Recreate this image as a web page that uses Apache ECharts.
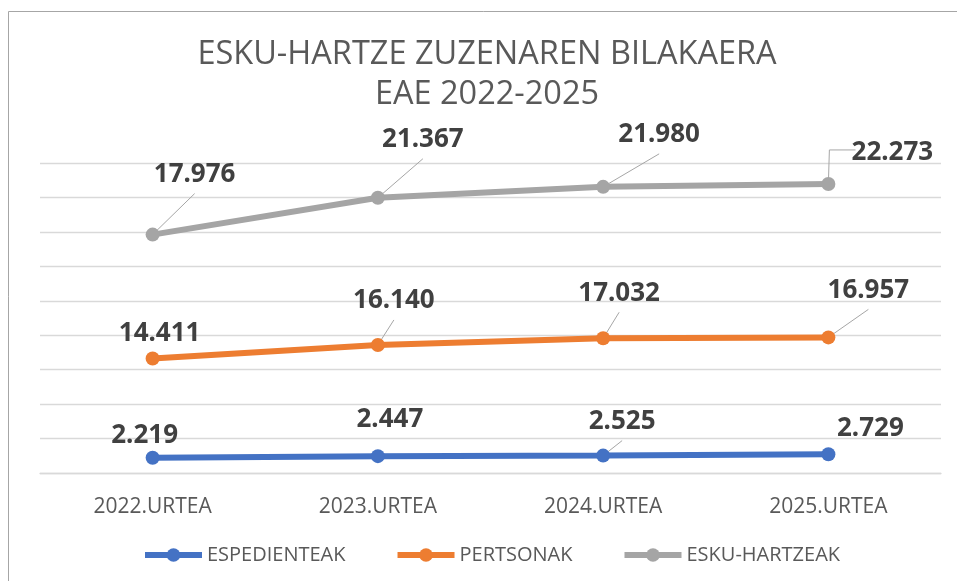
<!DOCTYPE html>
<html>
<head>
<meta charset="utf-8">
<script src="https://cdn.jsdelivr.net/npm/echarts@6/dist/echarts.min.js"></script>
<style>
  html, body { margin: 0; padding: 0; background: #fff; }
  #main { width: 957px; height: 581px; }
</style>
</head>
<body>
<div id="main"></div>
<script>
var categories = ['2022.URTEA', '2023.URTEA', '2024.URTEA', '2025.URTEA'];
var espedienteak = [2219, 2447, 2525, 2729];
var pertsonak = [14411, 16140, 17032, 16957];
var eskuHartzeak = [17976, 21367, 21980, 22273];

// label offsets from the point (text centre), and which labels get a leader line
var offEsp = [[-8, -24], [12, -39], [19, -36], [42, -28]];
var offPer = [[7, -27], [16, -46], [16, -47], [40, -49]];
var offEsk = [[42, -62], [45, -60], [56, -54], [64, -33]];
var lineEsp = [false, true, true, false];
var linePer = [false, true, true, true];
var lineEsk = [true, true, true, 'elbow'];

var font = '"Open Sans", "Noto Sans", sans-serif';
var boldFont = '"Noto Sans", "Liberation Sans", sans-serif';

function fmt(v) {
	return String(v).replace(/\B(?=(\d{3})+(?!\d))/g, '.');
}

// point / label centres collected while the labels are laid out
var anchors = [[], [], []];

function layoutFn(s, offs) {
	return function (params) {
		var o = offs[params.dataIndex];
		var px = params.rect.x + params.rect.width / 2;
		var py = params.rect.y + params.rect.height / 2;
		var lx = px + o[0], ly = py + o[1];
		anchors[s][params.dataIndex] = { px: px, py: py, lx: lx, ly: ly, w: params.labelRect.width };
		return { x: lx, y: ly + 2, align: 'center', verticalAlign: 'middle' };
	};
}

function makeSeries(s, name, values, color, offs) {
	return {
		name: name,
		type: 'line',
		stack: 'total',
		z: 3,
		data: values,
		symbol: 'circle',
		symbolSize: 14,
		lineStyle: { color: color, width: 6 },
		itemStyle: { color: color },
		label: {
			show: true,
			position: 'inside',
			formatter: function (p) { return fmt(p.value); },
			color: '#404040',
			fontFamily: boldFont,
			fontWeight: 'bold',
			fontSize: 26,
			padding: [4, 6, 8, 6]
		},
		labelLayout: layoutFn(s, offs)
	};
}

var myChart = echarts.init(document.getElementById('main'));

var option = {
	animation: false,
	backgroundColor: '#fff',
	graphic: [{
		type: 'rect',
		id: 'frame',
		silent: true,
		z: -10,
		shape: { x: 8.5, y: 11.5, width: 1200, height: 1200 },
		style: { fill: 'none', stroke: '#d9d9d9', lineWidth: 1.5 }
	}],
	title: {
		text: 'ESKU-HARTZE ZUZENAREN BILAKAERA\nEAE 2022-2025',
		left: 487,
		textAlign: 'center',
		top: 35,
		padding: 0,
		textStyle: {
			color: '#595959',
			fontFamily: font,
			fontWeight: 'normal',
			fontSize: 32.5,
			lineHeight: 40
		}
	},
	legend: {
		left: 142,
		top: 545,
		padding: 0,
		itemWidth: 57,
		itemHeight: 17,
		itemGap: 49,
		lineStyle: { width: 6 },
		textStyle: { color: '#595959', fontFamily: font, fontSize: 20 },
		data: ['ESPEDIENTEAK', 'PERTSONAK', 'ESKU-HARTZEAK']
	},
	grid: { left: 40, right: 16, top: 163, bottom: 108, containLabel: false },
	xAxis: {
		type: 'category',
		data: categories,
		boundaryGap: true,
		axisLine: { lineStyle: { color: '#d9d9d9', width: 1.3 } },
		axisTick: { show: false },
		axisLabel: { color: '#595959', fontFamily: font, fontSize: 21, margin: 24 }
	},
	yAxis: {
		type: 'value',
		min: 0,
		max: 45000,
		interval: 5000,
		axisLine: { show: false },
		axisTick: { show: false },
		axisLabel: { show: false },
		splitLine: { lineStyle: { color: '#d9d9d9', width: 1.3 } }
	},
	series: [
		makeSeries(0, 'ESPEDIENTEAK', espedienteak, '#4472c4', offEsp),
		makeSeries(1, 'PERTSONAK', pertsonak, '#ed7d31', offPer),
		makeSeries(2, 'ESKU-HARTZEAK', eskuHartzeak, '#a5a5a5', offEsk)
	]
};

myChart.setOption(option);

// leader lines from each point to its moved label
var guides = [];
[lineEsp, linePer, lineEsk].forEach(function (flags, s) {
	flags.forEach(function (f, i) {
		var a = anchors[s][i];
		if (!f || !a) return;
		var pts;
		if (f === 'elbow') {
			pts = [[a.px, a.py], [a.px + 1, a.ly - 1], [a.lx - a.w / 2 + 4, a.ly - 1]];
		} else {
			pts = [[a.px, a.py], [a.lx, a.ly + 21]];
		}
		guides.push({
			type: 'polyline',
			silent: true,
			z: 1,
			shape: { points: pts },
			style: { stroke: '#a6a6a6', lineWidth: 1, fill: null }
		});
	});
});
myChart.setOption({ graphic: guides });
</script>
</body>
</html>
